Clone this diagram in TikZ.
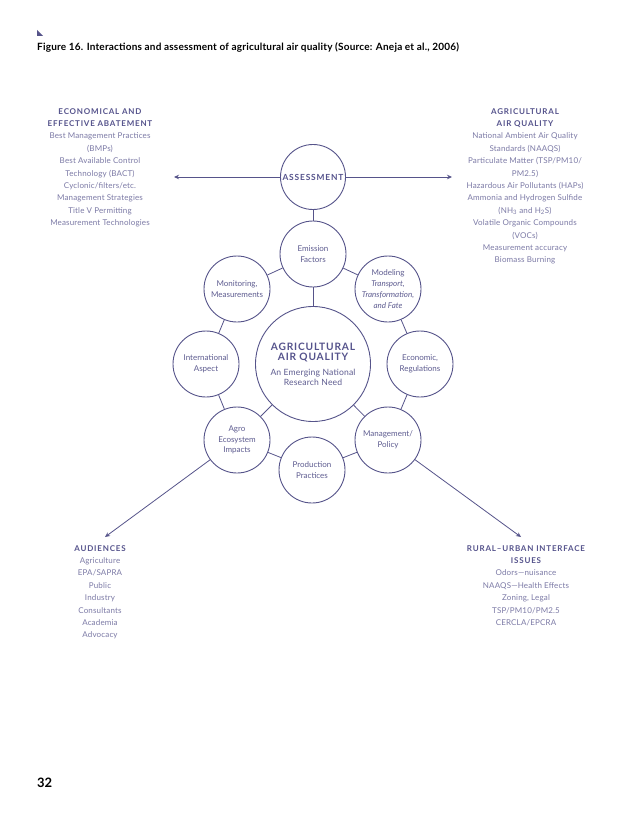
\documentclass[tikz,border=0pt]{standalone}
\usepackage{fontspec}
\setmainfont{Lato}
\usetikzlibrary{arrows.meta}
\definecolor{cline}{HTML}{56548A}
\definecolor{ctext}{HTML}{5E5C90}
\definecolor{clight}{HTML}{7C7AA6}
\definecolor{chead}{HTML}{55538C}
\tikzset{
  bub/.style={circle,draw=cline,line width=0.9pt,minimum size=66pt,inner sep=0pt,align=center,text=ctext,font=\fontsize{8}{10.8}\selectfont},
  link/.style={draw=cline,line width=0.8pt},
  arr/.style={draw=cline,line width=0.8pt,-{Stealth[length=5pt,width=4.5pt]}},
  blk/.style={align=center,text=clight,font=\fontsize{8}{12.4}\selectfont\addfontfeatures{LetterSpace=2},anchor=north,inner sep=0pt},
}
\newcommand{\hd}[1]{{\color{chead}\bfseries\addfontfeatures{LetterSpace=10}#1}}
\newcommand{\bighd}[1]{{\color{chead}\bfseries\fontsize{10.2}{12.5}\selectfont\addfontfeatures{LetterSpace=8}#1}}
\begin{document}
\begin{tikzpicture}[x=1pt,y=-1pt]
\useasboundingbox[fill=white] (0,0) rectangle (638,826);
% corner mark and title
\fill[cline] (37,30) -- (37,36) -- (43,36) -- cycle;
\node[anchor=west,inner sep=0pt,font=\bfseries\fontsize{10}{11}\selectfont\addfontfeatures{LetterSpace=2}] (title) at (37,47) {Figure 16. Interactions and assessment of agricultural air quality (Source: Aneja et al., 2006)};
\node[anchor=west,inner sep=0pt,font=\bfseries\fontsize{13}{14}\selectfont] (pg) at (37,783) {32};
% circles
\node[bub,minimum size=65pt,font=\fontsize{8.4}{10}\selectfont] (as) at (313,177) {\hd{ASSESSMENT}};
\node[bub,minimum size=115pt,font=\fontsize{8.6}{10}\selectfont\addfontfeatures{LetterSpace=2}] (c) at (313,364) {\bighd{AGRICULTURAL}\\\bighd{AIR QUALITY}\\[5pt]An Emerging National\\Research Need};
\node[bub] (em) at (313,254) {Emission\\Factors};
\node[bub] (mo) at (388,289) {Modeling\\\textit{Transport,}\\\textit{Transformation,}\\\textit{and Fate}};
\node[bub] (ec) at (420,364) {Economic,\\Regulations};
\node[bub] (ma) at (388,440) {Management/\\Policy};
\node[bub] (pr) at (312,470) {Production\\Practices};
\node[bub] (ag) at (237,440) {Agro\\Ecosystem\\Impacts};
\node[bub] (in) at (206,364) {International\\Aspect};
\node[bub] (mn) at (237,289) {Monitoring,\\Measurements};
% links
\draw[link] (as) -- (em);
\draw[link] (em) -- (c);
\draw[link] (c) -- (ag);
\draw[link] (c) -- (ma);
\draw[link] (em) -- (mo);
\draw[link] (mo) -- (ec);
\draw[link] (ec) -- (ma);
\draw[link] (ma) -- (pr);
\draw[link] (pr) -- (ag);
\draw[link] (ag) -- (in);
\draw[link] (in) -- (mn);
\draw[link] (mn) -- (em);
% arrows
\coordinate (lA) at (174,177);
\coordinate (rA) at (452,177);
\coordinate (dl) at (105,537);
\coordinate (dr) at (521,537);
\draw[arr] (as) -- (lA);
\draw[arr] (as) -- (rA);
\draw[arr] (ag) -- (dl);
\draw[arr] (ma) -- (dr);
% text blocks
\node[blk] (b1) at (100,108) {\hd{ECONOMICAL AND}\\\hd{EFFECTIVE ABATEMENT}\\Best Management Practices\\(BMPs)\\Best Available Control\\Technology (BACT)\\Cyclonic/filters/etc.\\Management Strategies\\Title V Permitting\\Measurement Technologies};
\node[blk] (b2) at (525,108) {\hd{AGRICULTURAL}\\\hd{AIR QUALITY}\\National Ambient Air Quality\\Standards (NAAQS)\\Particulate Matter (TSP/PM10/\\PM2.5)\\Hazardous Air Pollutants (HAPs)\\Ammonia and Hydrogen Sulfide\\(NH\textsubscript{3} and H\textsubscript{2}S)\\Volatile Organic Compounds\\(VOCs)\\Measurement accuracy\\Biomass Burning};
\node[blk] (b3) at (100,545) {\hd{AUDIENCES}\\Agriculture\\EPA/SAPRA\\Public\\Industry\\Consultants\\Academia\\Advocacy};
\node[blk] (b4) at (526,545) {\hd{RURAL–URBAN INTERFACE}\\\hd{ISSUES}\\Odors—nuisance\\NAAQS—Health Effects\\Zoning, Legal\\TSP/PM10/PM2.5\\CERCLA/EPCRA};
\end{tikzpicture}
\end{document}
